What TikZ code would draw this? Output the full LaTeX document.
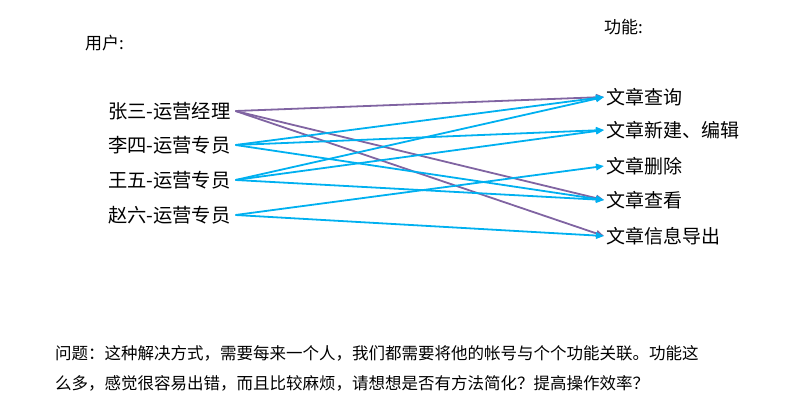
\documentclass[tikz,border=0pt]{standalone}
\usepackage{fontspec}
\newfontfamily\cjk{Noto Sans CJK SC}
\usetikzlibrary{arrows.meta}
\definecolor{linkblue}{HTML}{00B0F0}
\definecolor{linkpurple}{HTML}{8064A2}
\begin{document}
\begin{tikzpicture}[
            x=1pt, y=-1pt,
            font=\cjk,
            title/.style={anchor=west, inner sep=0pt, font=\cjk\fontsize{17}{20}\selectfont},
            user/.style={anchor=west, inner sep=0pt, outer sep=5pt, font=\cjk\fontsize{19.3}{23}\selectfont},
            func/.style={anchor=west, inner sep=0pt, outer sep=2pt, font=\cjk\fontsize{19}{23}\selectfont},
            note/.style={anchor=west, inner sep=0pt, font=\cjk\fontsize{16.5}{20}\selectfont},
            link/.style={-{Triangle[length=8pt,width=6.5pt]}, line width=1.8pt, linkblue},
            boss/.style={link, linkpurple}
        ]
        \useasboundingbox (0,0) rectangle (794,406);
        
        % titles
        \node[title] (usertitle) at (85,43) {用户:};
        \node[title] (functitle) at (604,27) {功能:};
        
        % users
        \node[user] (zhang) at (103,111) {张三-运营经理};
        \node[user] (li)    at (103,145) {李四-运营专员};
        \node[user] (wang)  at (103,180) {王五-运营专员};
        \node[user] (zhao)  at (103,215) {赵六-运营专员};
        
        % functions
        \node[func] (query)  at (604,97)  {文章查询};
        \node[func] (edit)   at (604,130) {文章新建、编辑};
        \node[func] (delete) at (604,166) {文章删除};
        \node[func] (view)   at (604,200) {文章查看};
        \node[func] (export) at (604,236) {文章信息导出};
        
        % manager links
        \draw[boss] (zhang.east) -- (query.west);
        \draw[boss] (zhang.east) -- (view.west);
        \draw[boss] (zhang.east) -- (export.west);
        
        % staff links
        \draw[link] (li.east) -- (query.west);
        \draw[link] (li.east) -- (edit.west);
        \draw[link] (li.east) -- (view.west);
        \draw[link] (wang.east) -- (query.west);
        \draw[link] (wang.east) -- (edit.west);
        \draw[link] (wang.east) -- (view.west);
        \draw[link] (zhao.east) -- (delete.west);
        \draw[link] (zhao.east) -- (export.west);
        
        % question
        \node[note] (line1) at (55,353) {问题：这种解决方式，需要每来一个人，我们都需要将他的帐号与个个功能关联。功能这};
        \node[note] (line2) at (55,383) {么多，感觉很容易出错，而且比较麻烦，请想想是否有方法简化？提高操作效率？};
        
        \end{tikzpicture}
\end{document}
